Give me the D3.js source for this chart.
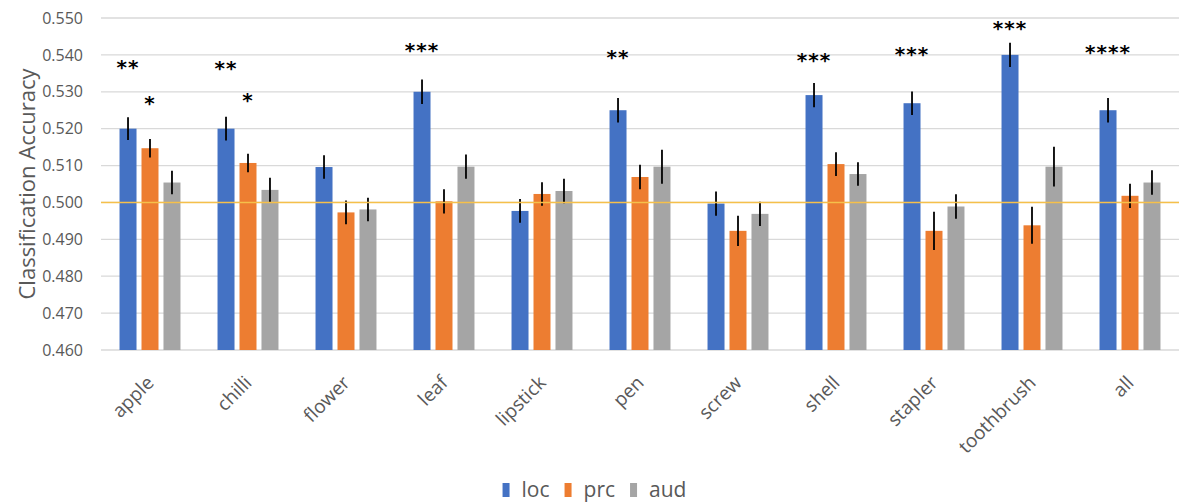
<!DOCTYPE html>
<meta charset="utf-8">
<style>
    body { margin: 0; background: white; }
    text { font-family: "Open Sans", sans-serif; }
</style>
<div id="chart"></div>
<script src="https://cdn.jsdelivr.net/npm/d3@7"></script>
<script>
    var categories = ["apple", "chilli", "flower", "leaf", "lipstick", "pen", "screw", "shell", "stapler", "toothbrush", "all"];
    var seriesNames = ["loc", "prc", "aud"];
    var seriesColors = ["#4472C4", "#ED7D31", "#A5A5A5"];

    var loc    = [0.5200, 0.5200, 0.5096, 0.5300, 0.4977, 0.5250, 0.4997, 0.5291, 0.5269, 0.5400, 0.5250];
    var locErr = [0.0031, 0.0032, 0.0032, 0.0033, 0.0032, 0.0033, 0.0033, 0.0033, 0.0032, 0.0033, 0.0033];
    var prc    = [0.5147, 0.5107, 0.4973, 0.5003, 0.5023, 0.5069, 0.4923, 0.5104, 0.4923, 0.4938, 0.5018];
    var prcErr = [0.0025, 0.0025, 0.0032, 0.0033, 0.0032, 0.0033, 0.0041, 0.0032, 0.0052, 0.0050, 0.0033];
    var aud    = [0.5054, 0.5034, 0.4981, 0.5097, 0.5031, 0.5097, 0.4969, 0.5077, 0.4989, 0.5097, 0.5054];
    var audErr = [0.0032, 0.0033, 0.0032, 0.0033, 0.0033, 0.0046, 0.0033, 0.0032, 0.0033, 0.0054, 0.0033];

    // significance stars, and the height (in accuracy units) where they sit
    var locStars  = ["**", "**", "", "***", "", "**", "", "***", "***", "***", "****"];
    var locStarY  = [0.5378, 0.5375, null, 0.5425, null, 0.5405, null, 0.5398, 0.5413, 0.5484, 0.5419];
    var prcStars  = ["*", "*", "", "", "", "", "", "", "", "", ""];
    var prcStarY  = [0.5280, 0.5289, null, null, null, null, null, null, null, null, null];

    var yTicks = [0.46, 0.47, 0.48, 0.49, 0.50, 0.51, 0.52, 0.53, 0.54, 0.55];
    var chance = 0.5;

    var W = 1189, H = 504;
    var margin = {top: 18, right: 10, bottom: 154, left: 101},
        width = W - margin.left - margin.right,
        height = H - margin.top - margin.bottom;

    var svg = d3.select("#chart").append("svg")
        .attr("width", W)
        .attr("height", H);
    var g = svg.append("g")
        .attr("transform", "translate(" + margin.left + "," + margin.top + ")");

    var x0 = d3.scaleBand()
        .domain(categories)
        .range([0, width])
        .paddingInner(0.378)
        .paddingOuter(0.189);

    var x1 = d3.scaleBand()
        .domain(seriesNames)
        .range([0, x0.bandwidth()])
        .paddingInner(0.227);

    var y = d3.scaleLinear()
        .domain([0.46, 0.55])
        .range([height, 0]);

    // gridlines
    g.append("g")
        .selectAll("line")
        .data(yTicks)
        .enter().append("line")
            .attr("x1", 0)
            .attr("x2", width)
            .attr("y1", function(d) { return y(d); })
            .attr("y2", function(d) { return y(d); })
            .attr("stroke", "#d9d9d9")
            .attr("stroke-width", 1.3);

    // y axis labels
    var yAxis = g.append("g")
        .call(d3.axisLeft(y).tickValues(yTicks).tickFormat(d3.format(".3f")).tickSize(0).tickPadding(18));
    yAxis.select(".domain").remove();
    yAxis.selectAll("text")
        .style("font-family", "'Open Sans', sans-serif")
        .style("font-size", "16px")
        .attr("fill", "#595959");

    // y title
    svg.append("text")
        .attr("transform", "translate(35," + (margin.top + height / 2) + ") rotate(-90)")
        .attr("text-anchor", "middle")
        .style("font-size", "22px")
        .attr("fill", "#595959")
        .text("Classification Accuracy");

    // x labels
    var xAxis = g.append("g")
        .attr("transform", "translate(0," + height + ")")
        .call(d3.axisBottom(x0).tickSize(0).tickPadding(0));
    xAxis.select(".domain").remove();
    xAxis.selectAll("text")
        .style("font-family", "'Open Sans', sans-serif")
        .style("font-size", "19px")
        .attr("fill", "#595959")
        .attr("text-anchor", "end")
        .attr("dy", 0)
        .attr("transform", "translate(5,34) rotate(-45)");

    var rows = categories.map(function(c, i) {
        return {
            cat: c,
            vals: [
                {key: "loc", v: loc[i], e: locErr[i]},
                {key: "prc", v: prc[i], e: prcErr[i]},
                {key: "aud", v: aud[i], e: audErr[i]}
            ]
        };
    });

    var color = d3.scaleOrdinal().domain(seriesNames).range(seriesColors);

    var groups = g.selectAll(".grp")
        .data(rows)
        .enter().append("g")
            .attr("class", "grp")
            .attr("transform", function(d) { return "translate(" + x0(d.cat) + ",0)"; });

    groups.selectAll("rect")
        .data(function(d) { return d.vals; })
        .enter().append("rect")
            .attr("x", function(d) { return x1(d.key); })
            .attr("width", x1.bandwidth())
            .attr("y", function(d) { return y(d.v); })
            .attr("height", function(d) { return height - y(d.v); })
            .attr("fill", function(d) { return color(d.key); });

    // chance line
    g.append("line")
        .attr("x1", 0)
        .attr("x2", width)
        .attr("y1", y(chance))
        .attr("y2", y(chance))
        .attr("stroke", "#F5C04A")
        .attr("stroke-width", 1.4);

    // error bars
    groups.selectAll(".err")
        .data(function(d) { return d.vals; })
        .enter().append("line")
            .attr("class", "err")
            .attr("x1", function(d) { return x1(d.key) + x1.bandwidth() / 2; })
            .attr("x2", function(d) { return x1(d.key) + x1.bandwidth() / 2; })
            .attr("y1", function(d) { return y(d.v + d.e); })
            .attr("y2", function(d) { return y(d.v - d.e); })
            .attr("stroke", "black")
            .attr("stroke-width", 1.8);

    // stars
    var stars = [];
    categories.forEach(function(c, i) {
        if (locStars[i]) stars.push({cat: c, key: "loc", t: locStars[i], v: locStarY[i]});
        if (prcStars[i]) stars.push({cat: c, key: "prc", t: prcStars[i], v: prcStarY[i]});
    });
    g.selectAll(".star")
        .data(stars)
        .enter().append("text")
            .attr("class", "star")
            .attr("x", function(d) { return x0(d.cat) + x1(d.key) + x1.bandwidth() / 2; })
            .attr("y", function(d) { return y(d.v); })
            .attr("dy", "0.55em")
            .attr("text-anchor", "middle")
            .style("font-family", "'DejaVu Sans', sans-serif")
            .style("font-weight", "bold")
            .style("font-size", "20px")
            .style("letter-spacing", "1px")
            .attr("fill", "black")
            .text(function(d) { return d.t; });

    // legend
    var legend = svg.append("g");
    var lx = 0;
    seriesNames.forEach(function(s, i) {
        var item = legend.append("g").attr("transform", "translate(" + lx + ",0)");
        item.append("rect")
            .attr("x", 0).attr("y", -14)
            .attr("width", 7).attr("height", 14)
            .attr("fill", seriesColors[i]);
        var t = item.append("text")
            .attr("x", 19).attr("y", 0)
            .style("font-size", "21px")
            .attr("fill", "#595959")
            .text(s);
        lx += 19 + t.node().getComputedTextLength() + 15;
    });
    var lw = lx - 15;
    legend.attr("transform", "translate(" + (W / 2 - lw / 2) + ",497)");
</script>
